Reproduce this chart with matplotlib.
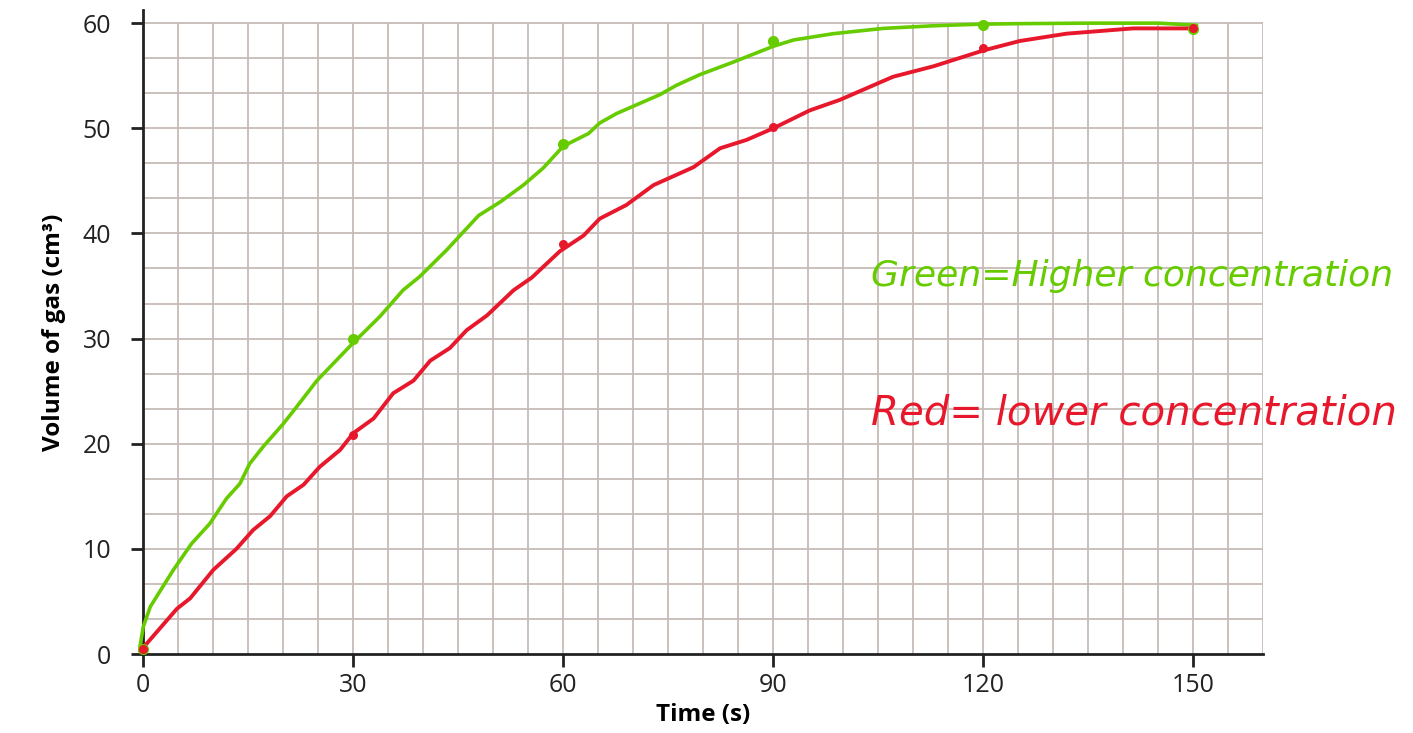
import matplotlib.pyplot as plt
import numpy as np

# colours
green = '#66cc00'
red = '#e8182c'
grid_col = '#c6bcb7'

# hand drawn curves
green_t = [-0.5, 0, 1, 4.3, 6.9, 9.5, 11.9, 13.8, 15.2, 17.1, 20, 21.9, 24.8, 27.1, 30,
           33.8, 37.1, 39.5, 43.3, 47.9, 51, 54.3, 57.1, 60, 63.6, 65.2, 67.6, 73.8, 76.2,
           79.5, 84.3, 90, 92.9, 98.6, 105.7, 112.9, 119.5, 125, 135, 145, 150.5]
green_v = [0.6, 2.6, 4.5, 8, 10.5, 12.4, 14.8, 16.2, 18.1, 19.7, 21.9, 23.5, 26, 27.6, 29.6,
           32.1, 34.6, 35.9, 38.4, 41.7, 43.0, 44.6, 46.2, 48.3, 49.5, 50.5, 51.4, 53.2, 54.1,
           55.1, 56.3, 57.8, 58.4, 59.0, 59.5, 59.75, 59.9, 59.95, 60, 60, 59.8]

red_t = [-0.5, 0.5, 4.8, 6.7, 10, 13.3, 15.7, 18.1, 20.5, 22.9, 25.2, 28.1, 30, 32.9, 35.7,
         38.6, 41, 43.8, 46.2, 49.1, 52.9, 55.5, 59.5, 62.9, 65.2, 69, 72.9, 78.6, 82.4, 86.2,
         90, 95.2, 99.5, 103.3, 107.1, 112.9, 120, 125.2, 131.9, 141.4, 149.5]
red_v = [0.3, 1.0, 4.3, 5.3, 8, 10, 11.8, 13.1, 15, 16.1, 17.8, 19.4, 21.0, 22.4, 24.8,
         26, 27.9, 29.1, 30.8, 32.2, 34.6, 35.8, 38.3, 39.8, 41.4, 42.7, 44.6, 46.3, 48.1, 48.9,
         50.0, 51.7, 52.7, 53.8, 54.9, 55.9, 57.4, 58.3, 59.0, 59.5, 59.5]

# plotted points
dot_t = [0, 30, 60, 90, 120, 150]
green_dot_v = [0.5, 30, 48.5, 58.3, 59.8, 59.4]
red_dot_v = [0.5, 20.8, 39, 50.1, 57.6, 59.5]

xticks = [0, 30, 60, 90, 120, 150]
yticks = [0, 10, 20, 30, 40, 50, 60]

plt.rcParams['font.family'] = ['Open Sans', 'DejaVu Sans']

fig = plt.figure(figsize=(14.13, 7.33), dpi=100)
ax = fig.add_axes([143.3/1413, 1-654/733, 1120/1413, 644/733])

#graph paper
ax.vlines(np.arange(5, 161, 5), 0, 60, color=grid_col, lw=1.3, zorder=0)
ax.hlines(np.arange(1, 19)*10/3, 0, 160, color=grid_col, lw=1.3, zorder=0)

ax.plot(green_t, green_v, color=green, lw=2.6, clip_on=False, zorder=3,
        solid_capstyle='round', solid_joinstyle='round')
ax.plot(red_t, red_v, color=red, lw=2.8, clip_on=False, zorder=3,
        solid_capstyle='round', solid_joinstyle='round')
ax.plot(dot_t, green_dot_v, 'o', color=green, ms=7, clip_on=False, zorder=4)
ax.plot(dot_t, red_dot_v, 'o', color=red, ms=5.5, clip_on=False, zorder=4)

ax.set_xlim(0, 160)
ax.set_ylim(0, 61.25)
for s in ['top', 'right']:
    ax.spines[s].set_visible(False)
for s in ['left', 'bottom']:
    ax.spines[s].set_linewidth(2)
    ax.spines[s].set_color('#222222')

ax.set_xticks(xticks)
ax.set_yticks(yticks)
ax.tick_params(axis='both', direction='out', length=9, width=2, color='#222222',
               labelsize=18, labelcolor='#222222')
ax.tick_params(axis='y', pad=14)
ax.tick_params(axis='x', pad=5)

ax.set_xlabel('Time (s)', fontsize=17.5, fontweight='bold', labelpad=3)
ax.set_ylabel('Volume of gas (cm³)', fontsize=17.5, fontweight='bold', labelpad=12)

#handwritten notes
ax.text(104, 35, 'Green=Higher concentration', color=green, fontsize=26,
        fontstyle='italic', family='DejaVu Sans', ha='left', va='baseline')
ax.text(104, 21.8, 'Red= lower concentration', color=red, fontsize=29,
        fontstyle='italic', family='DejaVu Sans', ha='left', va='baseline')

fig.savefig('out.png', dpi=100)
